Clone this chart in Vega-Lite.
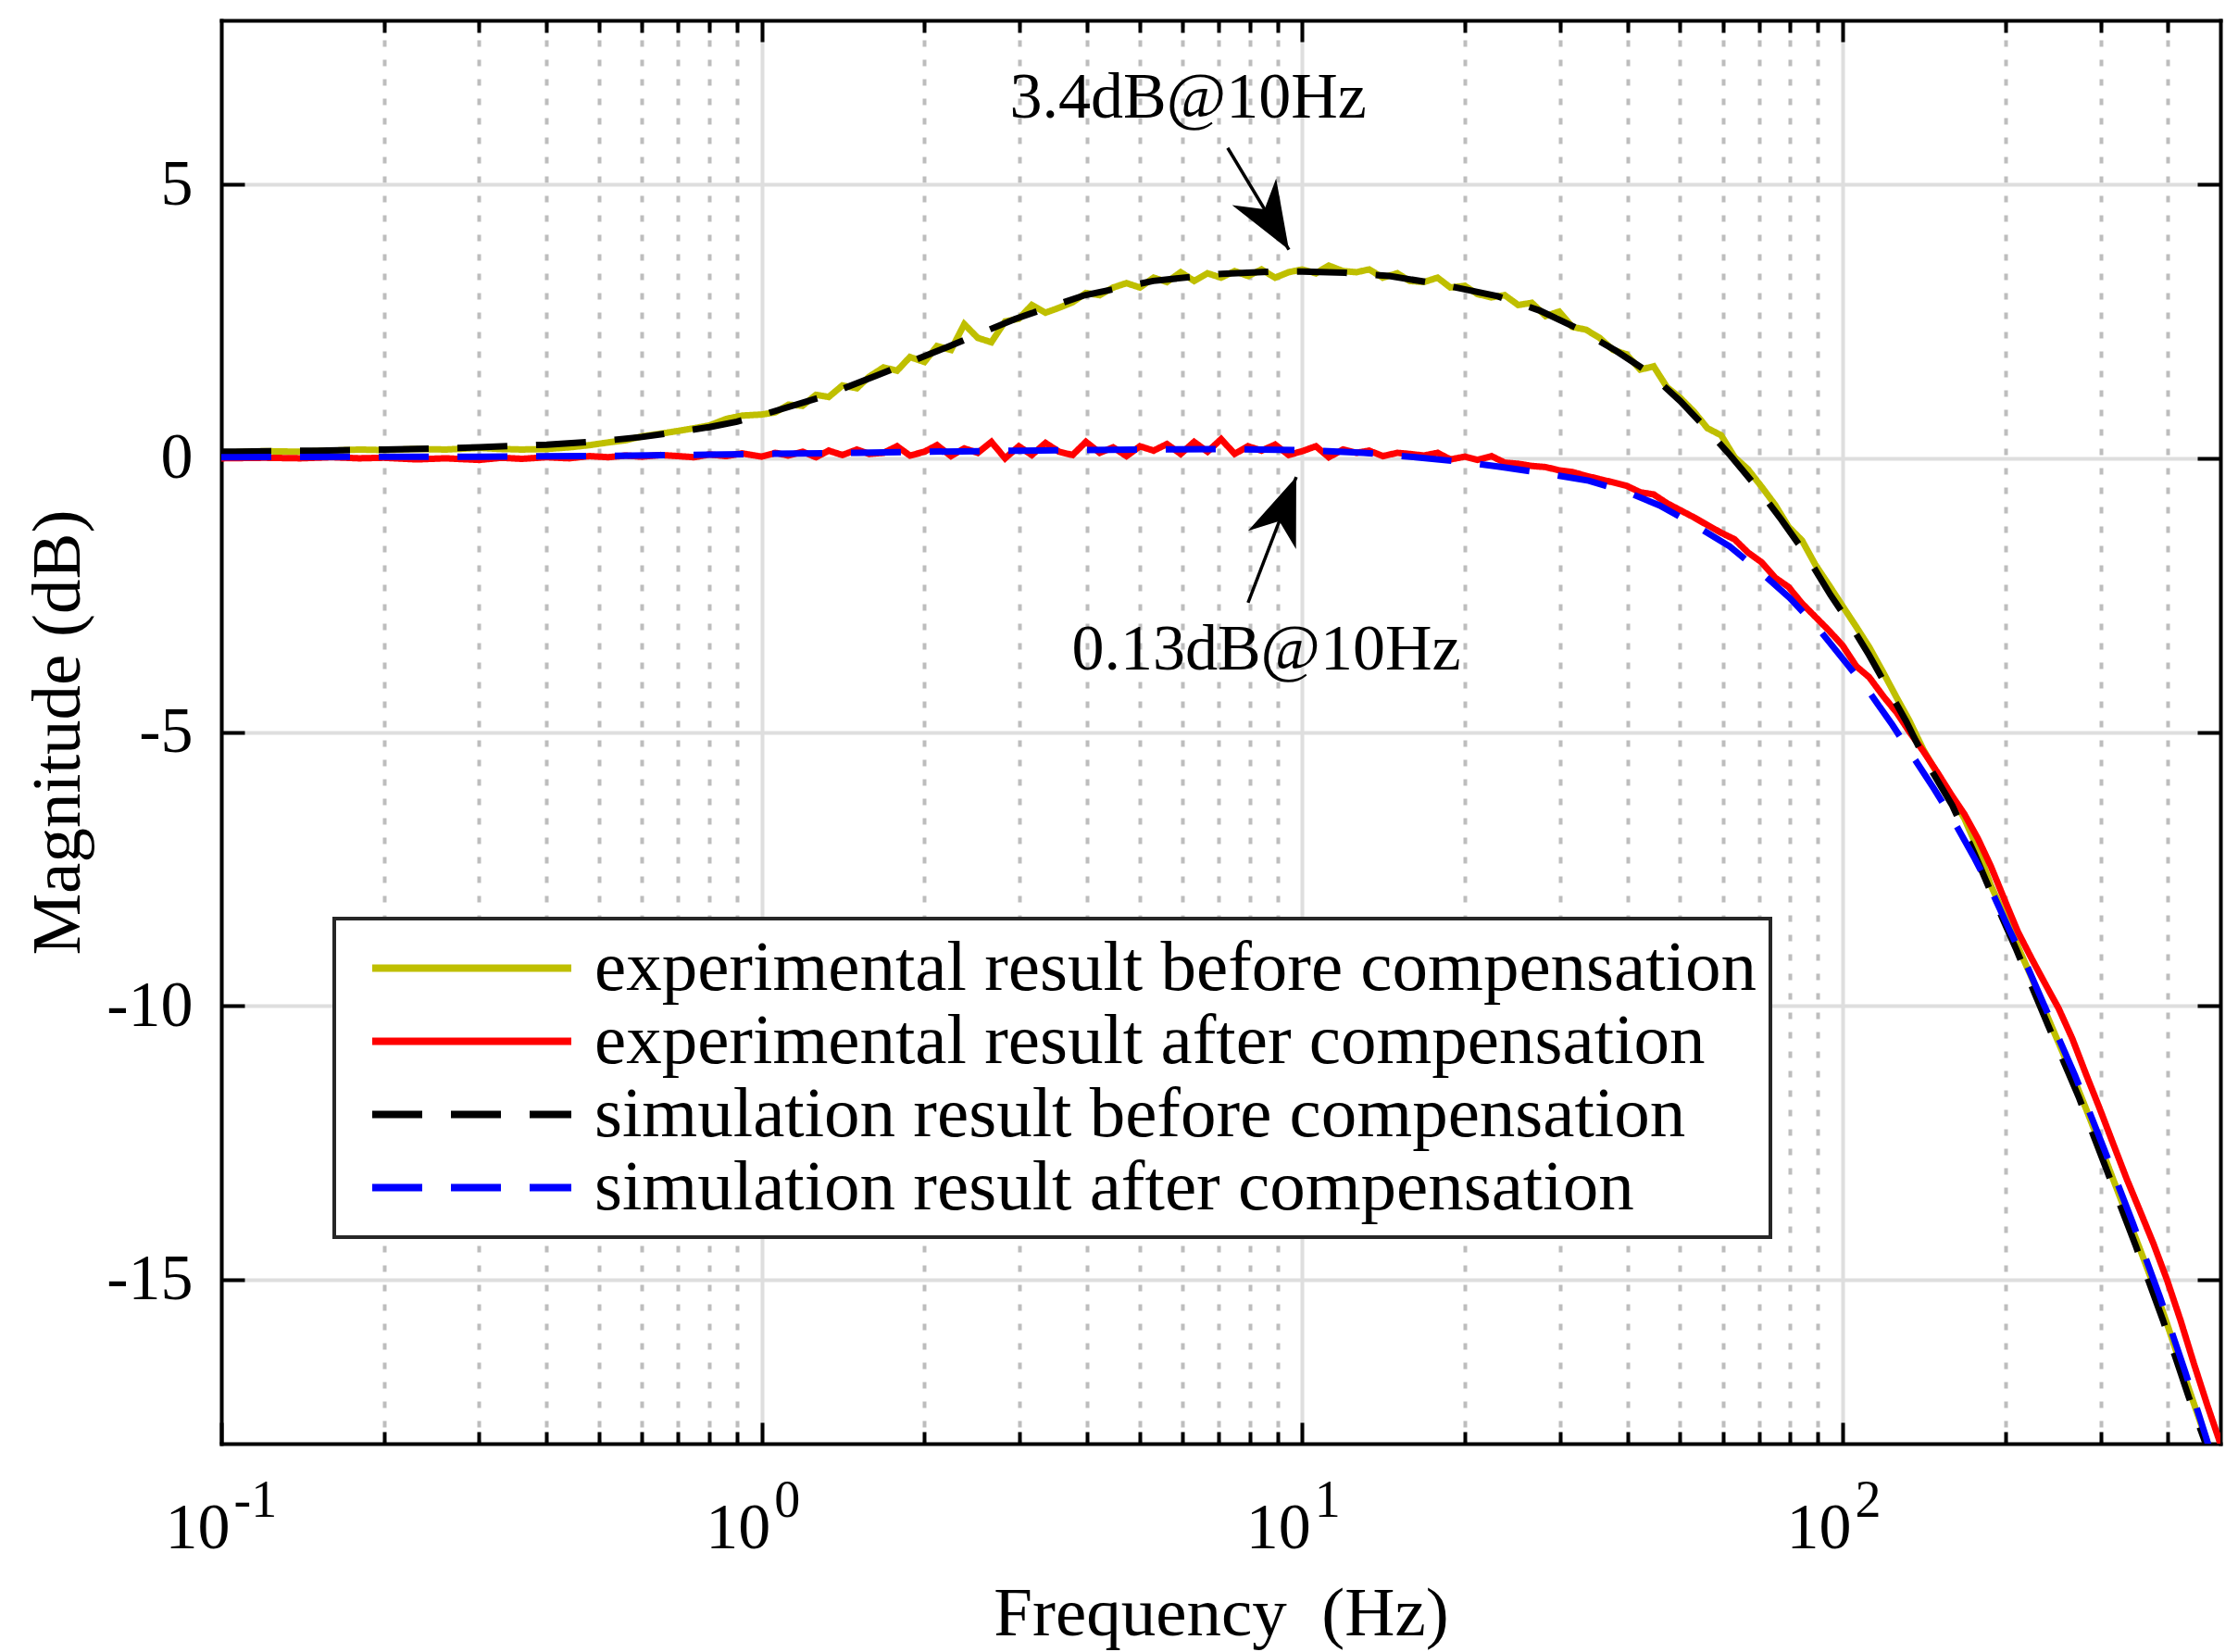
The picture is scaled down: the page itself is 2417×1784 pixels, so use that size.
{
  "$schema": "https://vega.github.io/schema/vega-lite/v6.json",
  "width": 2159,
  "height": 1537,
  "autosize": {"type": "none"},
  "padding": {"left": 239, "top": 22, "right": 19, "bottom": 225},
  "background": "white",
  "config": {
    "view": {"stroke": null},
    "font": "Liberation Serif",
    "axis": {
      "labelFont": "Liberation Serif",
      "titleFont": "Liberation Serif",
      "labelColor": "black",
      "titleColor": "black",
      "titleFontWeight": "normal",
      "tickColor": "black",
      "tickWidth": 4,
      "domainColor": "black",
      "domainWidth": 4,
      "domainCap": "square",
      "labelFlush": false,
      "labelOverlap": false
    },
    "legend": {
      "orient": "none",
      "legendX": 122,
      "legendY": 970,
      "zindex": 1,
      "padding": 14,
      "strokeColor": "#262626",
      "strokeWidth": 4,
      "fillColor": "white",
      "labelFont": "Liberation Serif",
      "labelFontSize": 77,
      "labelColor": "black",
      "labelLimit": 3000,
      "labelOffset": 21,
      "symbolType": "stroke",
      "symbolSize": 46225,
      "symbolStrokeWidth": 8,
      "symbolOffset": 23,
      "clipHeight": 79,
      "rowPadding": 0
    }
  },
  "datasets": {
    "exp_before": [
      {"f": 0.1, "db": 0.1}, {"f": 0.12, "db": 0.13}, {"f": 0.14, "db": 0.12}, {"f": 0.16, "db": 0.14},
      {"f": 0.18, "db": 0.16}, {"f": 0.2, "db": 0.15}, {"f": 0.23, "db": 0.17}, {"f": 0.26, "db": 0.16},
      {"f": 0.3, "db": 0.19}, {"f": 0.33, "db": 0.17}, {"f": 0.36, "db": 0.16}, {"f": 0.4, "db": 0.17},
      {"f": 0.44, "db": 0.2}, {"f": 0.48, "db": 0.24}, {"f": 0.52, "db": 0.29}, {"f": 0.56, "db": 0.33},
      {"f": 0.6, "db": 0.4}, {"f": 0.65, "db": 0.45}, {"f": 0.7, "db": 0.5}, {"f": 0.75, "db": 0.55},
      {"f": 0.8, "db": 0.6}, {"f": 0.86, "db": 0.72}, {"f": 0.92, "db": 0.78}, {"f": 1.0, "db": 0.8},
      {"f": 1.06, "db": 0.84}, {"f": 1.12, "db": 0.98}, {"f": 1.19, "db": 0.96}, {"f": 1.26, "db": 1.16},
      {"f": 1.33, "db": 1.12}, {"f": 1.41, "db": 1.33}, {"f": 1.5, "db": 1.28}, {"f": 1.58, "db": 1.49},
      {"f": 1.68, "db": 1.66}, {"f": 1.78, "db": 1.6}, {"f": 1.88, "db": 1.85}, {"f": 2.0, "db": 1.76},
      {"f": 2.11, "db": 2.05}, {"f": 2.24, "db": 1.98}, {"f": 2.37, "db": 2.45}, {"f": 2.51, "db": 2.2},
      {"f": 2.66, "db": 2.12}, {"f": 2.82, "db": 2.5}, {"f": 2.99, "db": 2.55}, {"f": 3.16, "db": 2.8},
      {"f": 3.35, "db": 2.66}, {"f": 3.55, "db": 2.75}, {"f": 3.76, "db": 2.85}, {"f": 3.98, "db": 3.02},
      {"f": 4.22, "db": 2.98}, {"f": 4.47, "db": 3.12}, {"f": 4.73, "db": 3.2}, {"f": 5.01, "db": 3.12},
      {"f": 5.31, "db": 3.3}, {"f": 5.62, "db": 3.22}, {"f": 5.96, "db": 3.4}, {"f": 6.31, "db": 3.24},
      {"f": 6.68, "db": 3.38}, {"f": 7.08, "db": 3.3}, {"f": 7.5, "db": 3.42}, {"f": 7.94, "db": 3.33},
      {"f": 8.41, "db": 3.45}, {"f": 8.91, "db": 3.3}, {"f": 9.44, "db": 3.4}, {"f": 10, "db": 3.45},
      {"f": 10.6, "db": 3.38}, {"f": 11.2, "db": 3.52}, {"f": 11.9, "db": 3.42}, {"f": 12.6, "db": 3.4},
      {"f": 13.3, "db": 3.45}, {"f": 14.1, "db": 3.3}, {"f": 15, "db": 3.38}, {"f": 15.8, "db": 3.24},
      {"f": 16.8, "db": 3.22}, {"f": 17.8, "db": 3.3}, {"f": 18.8, "db": 3.12}, {"f": 20, "db": 3.15},
      {"f": 21.1, "db": 3.0}, {"f": 22.4, "db": 2.94}, {"f": 23.7, "db": 2.98}, {"f": 25.1, "db": 2.8},
      {"f": 26.6, "db": 2.84}, {"f": 28.2, "db": 2.6}, {"f": 29.9, "db": 2.68}, {"f": 31.6, "db": 2.4},
      {"f": 33.5, "db": 2.35}, {"f": 35.5, "db": 2.2}, {"f": 37.6, "db": 1.98}, {"f": 39.8, "db": 1.9},
      {"f": 42.2, "db": 1.62}, {"f": 44.7, "db": 1.68}, {"f": 47.3, "db": 1.3}, {"f": 50.1, "db": 1.1},
      {"f": 53.1, "db": 0.85}, {"f": 56.2, "db": 0.55}, {"f": 59.6, "db": 0.42}, {"f": 63.1, "db": 0.02},
      {"f": 66.8, "db": -0.2}, {"f": 70.8, "db": -0.52}, {"f": 75, "db": -0.85}, {"f": 79.4, "db": -1.25},
      {"f": 84.1, "db": -1.5}, {"f": 89.1, "db": -1.95}, {"f": 94.4, "db": -2.32}, {"f": 100, "db": -2.7},
      {"f": 106, "db": -3.08}, {"f": 112, "db": -3.45}, {"f": 119, "db": -3.92}, {"f": 126, "db": -4.38},
      {"f": 133, "db": -4.8}, {"f": 141, "db": -5.32}, {"f": 150, "db": -5.78}, {"f": 159, "db": -6.2},
      {"f": 168, "db": -6.58}, {"f": 178, "db": -7.15}, {"f": 188, "db": -7.8}, {"f": 200, "db": -8.38},
      {"f": 211, "db": -8.92}, {"f": 224, "db": -9.5}, {"f": 237, "db": -10.1}, {"f": 251, "db": -10.68},
      {"f": 266, "db": -11.26}, {"f": 282, "db": -11.88}, {"f": 299, "db": -12.52}, {"f": 316, "db": -13.15},
      {"f": 335, "db": -13.8}, {"f": 355, "db": -14.45}, {"f": 376, "db": -15.1}, {"f": 398, "db": -15.8},
      {"f": 422, "db": -16.55}, {"f": 447, "db": -17.28}, {"f": 473, "db": -17.98}, {"f": 500, "db": -18.62}
    ],
    "exp_after": [
      {"f": 0.1, "db": 0.0}, {"f": 0.12, "db": 0.01}, {"f": 0.14, "db": 0.0}, {"f": 0.16, "db": 0.02},
      {"f": 0.18, "db": 0.0}, {"f": 0.2, "db": 0.01}, {"f": 0.23, "db": -0.02}, {"f": 0.26, "db": 0.0},
      {"f": 0.3, "db": -0.03}, {"f": 0.33, "db": 0.01}, {"f": 0.36, "db": -0.01}, {"f": 0.4, "db": 0.02},
      {"f": 0.44, "db": 0.0}, {"f": 0.48, "db": 0.04}, {"f": 0.52, "db": 0.02}, {"f": 0.56, "db": 0.05},
      {"f": 0.6, "db": 0.03}, {"f": 0.65, "db": 0.06}, {"f": 0.7, "db": 0.04}, {"f": 0.75, "db": 0.02},
      {"f": 0.8, "db": 0.07}, {"f": 0.86, "db": 0.04}, {"f": 0.92, "db": 0.09}, {"f": 1.0, "db": 0.03},
      {"f": 1.06, "db": 0.1}, {"f": 1.12, "db": 0.05}, {"f": 1.19, "db": 0.12}, {"f": 1.26, "db": 0.02},
      {"f": 1.33, "db": 0.14}, {"f": 1.41, "db": 0.06}, {"f": 1.5, "db": 0.16}, {"f": 1.58, "db": 0.08},
      {"f": 1.68, "db": 0.1}, {"f": 1.78, "db": 0.22}, {"f": 1.88, "db": 0.05}, {"f": 2.0, "db": 0.12},
      {"f": 2.11, "db": 0.24}, {"f": 2.24, "db": 0.04}, {"f": 2.37, "db": 0.18}, {"f": 2.51, "db": 0.1},
      {"f": 2.66, "db": 0.3}, {"f": 2.82, "db": 0.0}, {"f": 2.99, "db": 0.22}, {"f": 3.16, "db": 0.06},
      {"f": 3.35, "db": 0.28}, {"f": 3.55, "db": 0.12}, {"f": 3.76, "db": 0.06}, {"f": 3.98, "db": 0.3},
      {"f": 4.22, "db": 0.1}, {"f": 4.47, "db": 0.2}, {"f": 4.73, "db": 0.04}, {"f": 5.01, "db": 0.22},
      {"f": 5.31, "db": 0.14}, {"f": 5.62, "db": 0.26}, {"f": 5.96, "db": 0.08}, {"f": 6.31, "db": 0.3},
      {"f": 6.68, "db": 0.12}, {"f": 7.08, "db": 0.35}, {"f": 7.5, "db": 0.08}, {"f": 7.94, "db": 0.22},
      {"f": 8.41, "db": 0.14}, {"f": 8.91, "db": 0.25}, {"f": 9.44, "db": 0.06}, {"f": 10, "db": 0.13},
      {"f": 10.6, "db": 0.22}, {"f": 11.2, "db": 0.02}, {"f": 11.9, "db": 0.16}, {"f": 12.6, "db": 0.1},
      {"f": 13.3, "db": 0.14}, {"f": 14.1, "db": 0.04}, {"f": 15, "db": 0.1}, {"f": 15.8, "db": 0.08},
      {"f": 16.8, "db": 0.05}, {"f": 17.8, "db": 0.1}, {"f": 18.8, "db": -0.02}, {"f": 20, "db": 0.03},
      {"f": 21.1, "db": -0.03}, {"f": 22.4, "db": 0.04}, {"f": 23.7, "db": -0.08}, {"f": 25.1, "db": -0.1},
      {"f": 26.6, "db": -0.14}, {"f": 28.2, "db": -0.16}, {"f": 29.9, "db": -0.22}, {"f": 31.6, "db": -0.25},
      {"f": 33.5, "db": -0.32}, {"f": 35.5, "db": -0.38}, {"f": 37.6, "db": -0.44}, {"f": 39.8, "db": -0.5},
      {"f": 42.2, "db": -0.62}, {"f": 44.7, "db": -0.66}, {"f": 47.3, "db": -0.82}, {"f": 50.1, "db": -0.95},
      {"f": 53.1, "db": -1.08}, {"f": 56.2, "db": -1.22}, {"f": 59.6, "db": -1.36}, {"f": 63.1, "db": -1.48},
      {"f": 66.8, "db": -1.72}, {"f": 70.8, "db": -1.9}, {"f": 75, "db": -2.18}, {"f": 79.4, "db": -2.35},
      {"f": 84.1, "db": -2.65}, {"f": 89.1, "db": -2.9}, {"f": 94.4, "db": -3.15}, {"f": 100, "db": -3.42},
      {"f": 106, "db": -3.8}, {"f": 112, "db": -4.0}, {"f": 119, "db": -4.35}, {"f": 126, "db": -4.65},
      {"f": 133, "db": -5.0}, {"f": 141, "db": -5.35}, {"f": 150, "db": -5.75}, {"f": 159, "db": -6.15},
      {"f": 168, "db": -6.5}, {"f": 178, "db": -6.95}, {"f": 188, "db": -7.45}, {"f": 200, "db": -8.1},
      {"f": 211, "db": -8.65}, {"f": 224, "db": -9.15}, {"f": 237, "db": -9.6}, {"f": 251, "db": -10.05},
      {"f": 266, "db": -10.6}, {"f": 282, "db": -11.25}, {"f": 299, "db": -11.88}, {"f": 316, "db": -12.5},
      {"f": 335, "db": -13.15}, {"f": 355, "db": -13.75}, {"f": 376, "db": -14.35}, {"f": 398, "db": -15.0},
      {"f": 422, "db": -15.75}, {"f": 447, "db": -16.55}, {"f": 473, "db": -17.3}, {"f": 500, "db": -18.0}
    ],
    "sim_before": [
      {"f": 0.1, "db": 0.12}, {"f": 0.15, "db": 0.14}, {"f": 0.2, "db": 0.16}, {"f": 0.25, "db": 0.18},
      {"f": 0.3, "db": 0.2}, {"f": 0.4, "db": 0.25}, {"f": 0.5, "db": 0.31}, {"f": 0.6, "db": 0.39},
      {"f": 0.7, "db": 0.48}, {"f": 0.8, "db": 0.57}, {"f": 0.9, "db": 0.67}, {"f": 1.0, "db": 0.79},
      {"f": 1.29, "db": 1.12}, {"f": 1.64, "db": 1.52}, {"f": 2.2, "db": 2.03}, {"f": 2.95, "db": 2.55},
      {"f": 3.96, "db": 2.98}, {"f": 5.3, "db": 3.24}, {"f": 7.1, "db": 3.37}, {"f": 8.8, "db": 3.41},
      {"f": 10, "db": 3.41}, {"f": 12, "db": 3.39}, {"f": 14.5, "db": 3.33}, {"f": 18, "db": 3.18},
      {"f": 23, "db": 2.96}, {"f": 27.5, "db": 2.7}, {"f": 32.5, "db": 2.36}, {"f": 38, "db": 1.97},
      {"f": 43.9, "db": 1.56}, {"f": 50, "db": 1.05}, {"f": 55, "db": 0.62}, {"f": 62, "db": 0.05},
      {"f": 69.5, "db": -0.54}, {"f": 77, "db": -1.12}, {"f": 85.3, "db": -1.74}, {"f": 95, "db": -2.5},
      {"f": 102.8, "db": -3.0}, {"f": 112, "db": -3.6}, {"f": 120.8, "db": -4.18}, {"f": 131, "db": -4.8},
      {"f": 142, "db": -5.5}, {"f": 159.5, "db": -6.34}, {"f": 175, "db": -7.2}, {"f": 187.2, "db": -7.88},
      {"f": 209.5, "db": -8.97}, {"f": 240, "db": -10.36}, {"f": 274, "db": -11.69}, {"f": 308.5, "db": -13.02},
      {"f": 348.7, "db": -14.39}, {"f": 391.6, "db": -15.75}, {"f": 436.6, "db": -17.14}, {"f": 472, "db": -18.06},
      {"f": 500, "db": -18.75}
    ],
    "sim_after": [
      {"f": 0.1, "db": 0.02}, {"f": 0.2, "db": 0.03}, {"f": 0.3, "db": 0.03}, {"f": 0.5, "db": 0.04},
      {"f": 0.7, "db": 0.06}, {"f": 1.0, "db": 0.08}, {"f": 1.5, "db": 0.1}, {"f": 2, "db": 0.12},
      {"f": 3, "db": 0.14}, {"f": 5, "db": 0.16}, {"f": 7, "db": 0.17}, {"f": 10, "db": 0.15},
      {"f": 13, "db": 0.1}, {"f": 16.2, "db": 0.02}, {"f": 20, "db": -0.07}, {"f": 23, "db": -0.15},
      {"f": 28, "db": -0.27}, {"f": 33.9, "db": -0.41}, {"f": 40, "db": -0.62}, {"f": 45.8, "db": -0.86},
      {"f": 52, "db": -1.16}, {"f": 61.8, "db": -1.61}, {"f": 70, "db": -2.05}, {"f": 79.8, "db": -2.55},
      {"f": 90, "db": -3.1}, {"f": 100.2, "db": -3.67}, {"f": 112, "db": -4.27}, {"f": 123.6, "db": -4.87},
      {"f": 136, "db": -5.5}, {"f": 147.9, "db": -6.05}, {"f": 160, "db": -6.6}, {"f": 175.7, "db": -7.32},
      {"f": 190, "db": -7.97}, {"f": 203.8, "db": -8.63}, {"f": 220, "db": -9.3}, {"f": 234.8, "db": -9.94},
      {"f": 269, "db": -11.27}, {"f": 304.7, "db": -12.62}, {"f": 344.3, "db": -13.97}, {"f": 386.4, "db": -15.32},
      {"f": 430.7, "db": -16.7}, {"f": 469.5, "db": -17.86}, {"f": 500, "db": -18.75}
    ]
  },
  "layer": [
    {
      "data": {"name": "exp_before"},
      "mark": {"type": "line", "strokeWidth": 7, "clip": true},
      "encoding": {
        "x": {
          "field": "f", "type": "quantitative",
          "scale": {"type": "log", "domain": [0.1, 500], "nice": false},
          "axis": {
            "orient": "bottom",
            "values": [0.2, 0.3, 0.4, 0.5, 0.6, 0.7, 0.8, 0.9, 2, 3, 4, 5, 6, 7, 8, 9, 20, 30, 40, 50, 60, 70, 80, 90, 200, 300, 400],
            "grid": true, "gridColor": "#bdbdbd", "gridDash": [7, 14], "gridWidth": 4,
            "ticks": true, "tickSize": -13, "labels": false, "domain": false, "title": null
          }
        },
        "y": {
          "field": "db", "type": "quantitative",
          "scale": {"domain": [-18, 8], "nice": false, "zero": false},
          "axis": {
            "orient": "left",
            "values": [-15, -10, -5, 0, 5],
            "grid": true, "gridColor": "#dedede", "gridWidth": 4,
            "tickSize": -25, "labelFontSize": 70, "labelPadding": 56,
            "labelExpr": "'' + datum.value",
            "domain": true,
            "title": "Magnitude (dB)", "titleFontSize": 75, "titleX": -177, "titleBaseline": "middle"
          }
        },
        "color": {
          "datum": "experimental result before compensation",
          "scale": {
            "domain": ["experimental result before compensation", "experimental result after compensation", "simulation result before compensation", "simulation result after compensation"],
            "range": ["#bfbf00", "#ff0000", "#000000", "#0000ff"]
          },
          "legend": {"title": null}
        },
        "strokeDash": {
          "datum": "experimental result before compensation",
          "scale": {
            "domain": ["experimental result before compensation", "experimental result after compensation", "simulation result before compensation", "simulation result after compensation"],
            "range": [[1, 0], [1, 0], [54, 31], [54, 31]]
          },
          "legend": {"title": null}
        }
      }
    },
    {
      "data": {"name": "exp_after"},
      "mark": {"type": "line", "strokeWidth": 7, "clip": true},
      "encoding": {
        "x": {
          "field": "f", "type": "quantitative",
          "scale": {"type": "log", "domain": [0.1, 500], "nice": false},
          "axis": {
            "orient": "bottom",
            "values": [0.1, 1, 10, 100],
            "grid": true, "gridColor": "#dedede", "gridWidth": 4,
            "tickSize": -23,
            "labelExpr": "'10'", "labelAlign": "right", "labelBaseline": "alphabetic",
            "labelFontSize": 70, "labelPadding": 135, "labelOffset": 9,
            "domain": true,
            "title": "Frequency\u00a0 (Hz)", "titleFontSize": 75, "titleY": 206, "titleBaseline": "alphabetic"
          }
        },
        "y": {
          "field": "db", "type": "quantitative",
          "scale": {"domain": [-18, 8], "nice": false, "zero": false},
          "axis": {
            "orient": "right",
            "values": [-15, -10, -5, 0, 5],
            "grid": false, "tickSize": -25, "labels": false, "domain": true, "title": null
          }
        },
        "color": {"datum": "experimental result after compensation", "legend": {"title": null}},
        "strokeDash": {"datum": "experimental result after compensation", "legend": {"title": null}}
      }
    },
    {
      "data": {"name": "sim_before"},
      "mark": {"type": "line", "strokeWidth": 7, "clip": true},
      "encoding": {
        "x": {
          "field": "f", "type": "quantitative",
          "scale": {"type": "log", "domain": [0.1, 500], "nice": false},
          "axis": {
            "orient": "bottom",
            "values": [0.1, 1, 10, 100],
            "grid": false, "ticks": false, "domain": false,
            "labelExpr": "'' + round(log(datum.value) / LN10)",
            "labelAlign": "left", "labelBaseline": "alphabetic",
            "labelFontSize": 56, "labelPadding": 78, "labelOffset": 13,
            "title": null
          }
        },
        "y": {
          "field": "db", "type": "quantitative",
          "scale": {"domain": [-18, 8], "nice": false, "zero": false},
          "axis": null
        },
        "color": {"datum": "simulation result before compensation", "legend": {"title": null}},
        "strokeDash": {"datum": "simulation result before compensation", "legend": {"title": null}}
      }
    },
    {
      "data": {"name": "sim_after"},
      "mark": {"type": "line", "strokeWidth": 7, "clip": true},
      "encoding": {
        "x": {
          "field": "f", "type": "quantitative",
          "scale": {"type": "log", "domain": [0.1, 500], "nice": false},
          "axis": {
            "orient": "top",
            "values": [0.2, 0.3, 0.4, 0.5, 0.6, 0.7, 0.8, 0.9, 2, 3, 4, 5, 6, 7, 8, 9, 20, 30, 40, 50, 60, 70, 80, 90, 200, 300, 400],
            "grid": false, "tickSize": -13, "labels": false, "domain": true, "title": null
          }
        },
        "y": {
          "field": "db", "type": "quantitative",
          "scale": {"domain": [-18, 8], "nice": false, "zero": false},
          "axis": null
        },
        "color": {"datum": "simulation result after compensation", "legend": {"title": null}},
        "strokeDash": {"datum": "simulation result after compensation", "legend": {"title": null}}
      }
    },
    {
      "data": {"values": [
        {"f": 7.28, "db": 5.67, "f2": 9.45, "db2": 3.81},
        {"f": 7.94, "db": -2.64, "f2": 9.75, "db2": -0.34}
      ]},
      "mark": {"type": "rule", "color": "black", "strokeWidth": 3.5},
      "encoding": {
        "x": {
          "field": "f", "type": "quantitative",
          "scale": {"type": "log", "domain": [0.1, 500], "nice": false},
          "axis": {
            "orient": "top",
            "values": [1, 10, 100],
            "grid": false, "tickSize": -23, "labels": false, "domain": false, "title": null
          }
        },
        "y": {
          "field": "db", "type": "quantitative",
          "scale": {"domain": [-18, 8], "nice": false, "zero": false},
          "axis": null
        },
        "x2": {"field": "f2"},
        "y2": {"field": "db2"}
      }
    },
    {
      "data": {"values": [{"f": 9.45, "db": 3.81}]},
      "mark": {"type": "point", "shape": "M0,0L0.38,1L0,0.7L-0.38,1Z", "size": 21316, "angle": 149, "filled": true, "color": "black", "opacity": 1, "strokeWidth": 0},
      "encoding": {
        "x": {"field": "f", "type": "quantitative", "scale": {"type": "log", "domain": [0.1, 500], "nice": false}, "axis": null},
        "y": {"field": "db", "type": "quantitative", "scale": {"domain": [-18, 8], "nice": false, "zero": false}, "axis": null}
      }
    },
    {
      "data": {"values": [{"f": 9.75, "db": -0.34}]},
      "mark": {"type": "point", "shape": "M0,0L0.38,1L0,0.7L-0.38,1Z", "size": 21316, "angle": 21, "filled": true, "color": "black", "opacity": 1, "strokeWidth": 0},
      "encoding": {
        "x": {"field": "f", "type": "quantitative", "scale": {"type": "log", "domain": [0.1, 500], "nice": false}, "axis": null},
        "y": {"field": "db", "type": "quantitative", "scale": {"domain": [-18, 8], "nice": false, "zero": false}, "axis": null}
      }
    },
    {
      "data": {"values": [
        {"t": "3.4dB@10Hz", "f": 6.15, "db": 6.22},
        {"t": "0.13dB@10Hz", "f": 8.58, "db": -3.86}
      ]},
      "mark": {"type": "text", "fontSize": 70, "align": "center", "baseline": "alphabetic", "color": "black", "font": "Liberation Serif"},
      "encoding": {
        "x": {"field": "f", "type": "quantitative", "scale": {"type": "log", "domain": [0.1, 500], "nice": false}, "axis": null},
        "y": {"field": "db", "type": "quantitative", "scale": {"domain": [-18, 8], "nice": false, "zero": false}, "axis": null},
        "text": {"field": "t"}
      }
    }
  ],
  "resolve": {"axis": {"x": "independent", "y": "independent"}}
}
